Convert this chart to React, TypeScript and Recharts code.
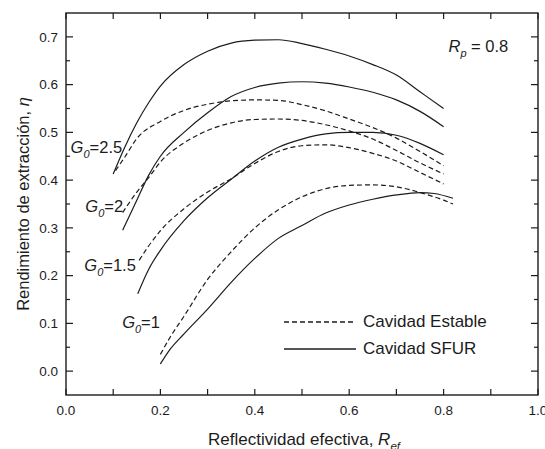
import React from 'react';
import { LineChart, Line, XAxis, YAxis, Legend, ReferenceDot } from 'recharts';

const FONT = '"Liberation Sans", Arial, Helvetica, sans-serif';
const INK = '#1c1c1c';

const CHART_W = 545;
const CHART_H = 449;
const MARGIN = { top: 13, right: 7, left: 0, bottom: 0 };
const Y_AXIS_W = 66;
const X_AXIS_H = 54;
const PLOT_LEFT = MARGIN.left + Y_AXIS_W;
const PLOT_TOP = MARGIN.top;
const PLOT_W = CHART_W - MARGIN.left - MARGIN.right - Y_AXIS_W;
const PLOT_H = CHART_H - MARGIN.top - MARGIN.bottom - X_AXIS_H;

const X_DOMAIN = [0, 1];
const Y_DOMAIN = [-0.05, 0.75];

// axis ticks and their labels (blank = unlabelled tick)
const xTicks = [0, 0.1, 0.2, 0.3, 0.4, 0.5, 0.6, 0.7, 0.8, 0.9, 1.0];
const xTickLabels = ['0.0', '', '0.2', '', '0.4', '', '0.6', '', '0.8', '', '1.0'];
const yTicks = [0, 0.05, 0.1, 0.15, 0.2, 0.25, 0.3, 0.35, 0.4, 0.45, 0.5, 0.55, 0.6, 0.65, 0.7];
const yTickLabels = ['0.0', '', '0.1', '', '0.2', '', '0.3', '', '0.4', '', '0.5', '', '0.6', '', '0.7'];

const legendItems = ['Cavidad Estable', 'Cavidad SFUR'];
const gains = ['2.5', '2', '1.5', '1'];

// Cavidad SFUR (solid), [R_ef, eta]
const sfurG25 = [[0.1, 0.413], [0.125, 0.47], [0.15, 0.52], [0.175, 0.562], [0.2, 0.597], [0.25, 0.642], [0.3, 0.67], [0.35, 0.687], [0.4, 0.693], [0.45, 0.694], [0.5, 0.686], [0.55, 0.674], [0.6, 0.66], [0.65, 0.642], [0.7, 0.62], [0.75, 0.585], [0.8, 0.55]];
const sfurG2 = [[0.12, 0.295], [0.15, 0.358], [0.175, 0.41], [0.2, 0.45], [0.25, 0.5], [0.3, 0.541], [0.35, 0.575], [0.4, 0.594], [0.45, 0.603], [0.5, 0.606], [0.55, 0.603], [0.6, 0.595], [0.65, 0.584], [0.7, 0.568], [0.75, 0.544], [0.8, 0.512]];
const sfurG15 = [[0.152, 0.162], [0.175, 0.213], [0.2, 0.253], [0.25, 0.315], [0.3, 0.363], [0.35, 0.402], [0.4, 0.44], [0.45, 0.469], [0.5, 0.486], [0.55, 0.497], [0.6, 0.5], [0.65, 0.5], [0.7, 0.494], [0.75, 0.477], [0.8, 0.453]];
const sfurG1 = [[0.2, 0.015], [0.22, 0.045], [0.25, 0.078], [0.3, 0.13], [0.35, 0.186], [0.4, 0.236], [0.45, 0.278], [0.5, 0.305], [0.55, 0.331], [0.6, 0.348], [0.65, 0.36], [0.7, 0.369], [0.75, 0.374], [0.78, 0.372], [0.82, 0.362]];

// Cavidad Estable (dashed)
const stableG25 = [[0.105, 0.42], [0.125, 0.449], [0.15, 0.487], [0.2, 0.523], [0.25, 0.546], [0.3, 0.559], [0.35, 0.566], [0.4, 0.568], [0.45, 0.567], [0.5, 0.558], [0.55, 0.545], [0.6, 0.528], [0.65, 0.51], [0.7, 0.488], [0.75, 0.46], [0.8, 0.43]];
const stableG2 = [[0.12, 0.332], [0.15, 0.375], [0.175, 0.405], [0.2, 0.438], [0.25, 0.478], [0.3, 0.504], [0.35, 0.52], [0.4, 0.527], [0.45, 0.528], [0.5, 0.525], [0.55, 0.516], [0.6, 0.503], [0.65, 0.486], [0.7, 0.462], [0.75, 0.436], [0.8, 0.413]];
const stableG15 = [[0.155, 0.232], [0.175, 0.262], [0.2, 0.294], [0.25, 0.34], [0.3, 0.375], [0.35, 0.403], [0.4, 0.435], [0.45, 0.46], [0.5, 0.472], [0.55, 0.474], [0.6, 0.468], [0.65, 0.456], [0.7, 0.44], [0.75, 0.416], [0.8, 0.392]];
const stableG1 = [[0.2, 0.035], [0.22, 0.07], [0.25, 0.115], [0.3, 0.192], [0.35, 0.25], [0.4, 0.3], [0.45, 0.338], [0.5, 0.365], [0.55, 0.382], [0.6, 0.389], [0.65, 0.39], [0.7, 0.386], [0.75, 0.374], [0.8, 0.358], [0.82, 0.35]];

const toPoints = (pairs: number[][]) => pairs.map(([x, y]) => ({ x, y }));

const solidSeries = [sfurG25, sfurG2, sfurG15, sfurG1];
const dashedSeries = [stableG25, stableG2, stableG15, stableG1];

// pixel position of an axis value, same linear mapping as the chart's axes
const xPx = (v: number) => PLOT_LEFT + ((v - X_DOMAIN[0]) / (X_DOMAIN[1] - X_DOMAIN[0])) * PLOT_W;
const yPx = (v: number) => PLOT_TOP + PLOT_H - ((v - Y_DOMAIN[0]) / (Y_DOMAIN[1] - Y_DOMAIN[0])) * PLOT_H;

const BottomLabel = (props: any) => {
  const { x, y, index } = props;
  const label = xTickLabels[index];
  if (!label) return <g />;
  return (
    <text x={x} y={y + 20} textAnchor="middle" fontSize={13.5} fontFamily={FONT} fill={INK}>
      {label}
    </text>
  );
};

const LeftLabel = (props: any) => {
  const { x, y, index } = props;
  const label = yTickLabels[index];
  if (!label) return <g />;
  return (
    <text x={x - 8} y={y} dy="0.36em" textAnchor="end" fontSize={13.5} fontFamily={FONT} fill={INK}>
      {label}
    </text>
  );
};

// frame and inward ticks on all four sides, laid over the chart
const FrameOverlay = () => {
  const bottom = PLOT_TOP + PLOT_H;
  const right = PLOT_LEFT + PLOT_W;
  return (
    <svg
      width={CHART_W}
      height={CHART_H}
      style={{ position: 'absolute', left: 0, top: 0, pointerEvents: 'none' }}
    >
      <rect x={PLOT_LEFT} y={PLOT_TOP} width={PLOT_W} height={PLOT_H} fill="none" stroke={INK} strokeWidth={1.4} />
      {xTicks.map((t) => {
        const x = xPx(t);
        return (
          <g key={'x' + t}>
            <line x1={x} y1={bottom} x2={x} y2={bottom - 6} stroke={INK} strokeWidth={1.2} />
            <line x1={x} y1={PLOT_TOP} x2={x} y2={PLOT_TOP + 6} stroke={INK} strokeWidth={1.2} />
          </g>
        );
      })}
      {yTicks.map((t, i) => {
        const y = yPx(t);
        const len = yTickLabels[i] ? 7 : 4;
        return (
          <g key={'y' + t}>
            <line x1={PLOT_LEFT} y1={y} x2={PLOT_LEFT + len} y2={y} stroke={INK} strokeWidth={1.2} />
            <line x1={right} y1={y} x2={right - len} y2={y} stroke={INK} strokeWidth={1.2} />
          </g>
        );
      })}
    </svg>
  );
};

const XTitle = (props: any) => {
  const vb = props.viewBox;
  return (
    <text x={vb.x + vb.width / 2 + 2} y={vb.y + 50} textAnchor="middle" fontSize={17} fontFamily={FONT} fill={INK}>
      Reflectividad efectiva,{' '}
      <tspan fontStyle="italic">R</tspan>
      <tspan fontStyle="italic" fontSize={11.5} dy={5}>ef</tspan>
    </text>
  );
};

const YTitle = (props: any) => {
  const vb = props.viewBox;
  const cx = vb.x + 23;
  const cy = vb.y + vb.height / 2;
  return (
    <text x={cx} y={cy} transform={`rotate(-90, ${cx}, ${cy})`} textAnchor="middle" dy="0.35em" fontSize={16.5} fontFamily={FONT} fill={INK}>
      Rendimiento de extracción, <tspan fontStyle="italic">η</tspan>
    </text>
  );
};

const GainLabel = ({ cx, cy, value }: any) => (
  <text x={cx} y={cy} textAnchor="end" fontSize={16.5} fontFamily={FONT} fill={INK}>
    <tspan fontStyle="italic">G</tspan>
    <tspan fontStyle="italic" fontSize={11} dy={5}>0</tspan>
    <tspan dy={-5}>={value}</tspan>
  </text>
);

const RpLabel = ({ cx, cy }: any) => (
  <text x={cx} y={cy} textAnchor="end" fontSize={16.5} fontFamily={FONT} fill={INK}>
    <tspan fontStyle="italic">R</tspan>
    <tspan fontStyle="italic" fontSize={11} dy={5}>p</tspan>
    <tspan dy={-5}> = 0.8</tspan>
  </text>
);

const LegendBox = () => (
  <div style={{ fontFamily: FONT, fontSize: 17, color: INK }}>
    {legendItems.map((name, i) => (
      <div key={name} style={{ display: 'flex', alignItems: 'center', height: 27 }}>
        <svg width={72} height={4} style={{ display: 'block' }}>
          <line x1={0} y1={2} x2={72} y2={2} stroke={INK} strokeWidth={1.3} strokeDasharray={i === 0 ? '5 3' : 'none'} />
        </svg>
        <span style={{ marginLeft: 7, whiteSpace: 'nowrap' }}>{name}</span>
      </div>
    ))}
  </div>
);

const gainSpots = [
  { x: 0.119, y: 0.457 },
  { x: 0.121, y: 0.334 },
  { x: 0.148, y: 0.21 },
  { x: 0.199, y: 0.09 },
];

export default function App() {
  return (
    <div style={{ position: 'absolute', left: 0, top: 0, width: CHART_W, height: CHART_H }}>
      <LineChart width={CHART_W} height={CHART_H} margin={MARGIN}>
        <XAxis
          type="number"
          dataKey="x"
          domain={X_DOMAIN}
          ticks={xTicks}
          interval={0}
          height={X_AXIS_H}
          tickSize={0}
          tickMargin={0}
          tick={<BottomLabel />}
          tickLine={false}
          axisLine={false}
          allowDataOverflow
          label={<XTitle />}
        />
        <YAxis
          type="number"
          domain={Y_DOMAIN}
          ticks={yTicks}
          interval={0}
          width={Y_AXIS_W}
          tickSize={0}
          tickMargin={0}
          tick={<LeftLabel />}
          tickLine={false}
          axisLine={false}
          allowDataOverflow
          label={<YTitle />}
        />
        {dashedSeries.map((s, i) => (
          <Line
            key={'stable' + i}
            data={toPoints(s)}
            dataKey="y"
            type="monotone"
            stroke={INK}
            strokeWidth={1.2}
            strokeDasharray="5 3"
            dot={false}
            activeDot={false}
            isAnimationActive={false}
          />
        ))}
        {solidSeries.map((s, i) => (
          <Line
            key={'sfur' + i}
            data={toPoints(s)}
            dataKey="y"
            type="monotone"
            stroke={INK}
            strokeWidth={1.2}
            dot={false}
            activeDot={false}
            isAnimationActive={false}
          />
        ))}
        {gains.map((g, i) => (
          <ReferenceDot
            key={g}
            x={gainSpots[i].x}
            y={gainSpots[i].y}
            r={0}
            shape={(p: any) => <GainLabel cx={p.cx} cy={p.cy} value={g} />}
          />
        ))}
        <ReferenceDot x={0.937} y={0.669} r={0} shape={(p: any) => <RpLabel cx={p.cx} cy={p.cy} />} />
        <Legend
          layout="vertical"
          align="center"
          verticalAlign="middle"
          content={<LegendBox />}
          wrapperStyle={{ left: 284, top: 308, width: 240, height: 'auto' }}
        />
      </LineChart>
      <FrameOverlay />
    </div>
  );
}
